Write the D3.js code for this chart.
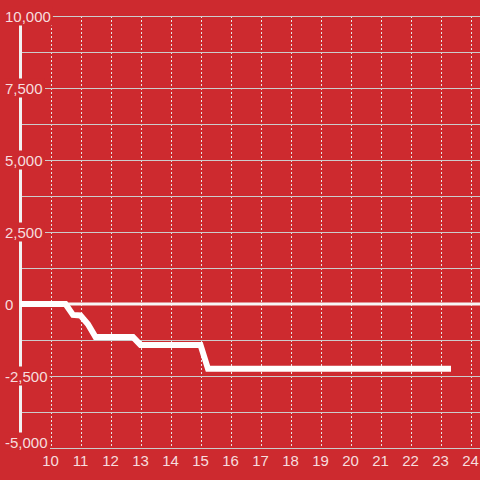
<!DOCTYPE html>
<html>
<head>
<meta charset="utf-8">
<script src="https://cdn.jsdelivr.net/npm/d3@7"></script>
<style>
  html, body { margin: 0; padding: 0; background: #cd2a2f; }
  svg { display: block; font-family: "Liberation Sans", Arial, sans-serif; }
</style>
</head>
<body>
<div id="chart"></div>
<script>
// step-down series (hour of day -> value)
const hours  = [9, 10.5, 10.75, 11, 11.25, 11.5, 12.75, 13, 15, 15.25, 23.35];
const values = [0, 0, -380, -400, -700, -1150, -1150, -1420, -1420, -2250, -2250];

const xTicks = [10, 11, 12, 13, 14, 15, 16, 17, 18, 19, 20, 21, 22, 23, 24];
const yMajor = [10000, 7500, 5000, 2500, 0, -2500, -5000];
const yMinor = [8750, 6250, 3750, 1250, -1250, -3750];

const W = 480, H = 480, bg = "#cd2a2f";
const x = d3.scaleLinear().domain([9, 25]).range([20.5, 500.5]);
const y = d3.scaleLinear().domain([-5000, 10000]).range([448, 16]);

const svg = d3.select("#chart").append("svg").attr("width", W).attr("height", H);
svg.append("rect").attr("width", W).attr("height", H).attr("fill", bg);

// vertical dashed grid
svg.append("g").selectAll("line").data(xTicks).join("line")
    .attr("x1", d => Math.round(x(d)) + 0.5).attr("x2", d => Math.round(x(d)) + 0.5)
    .attr("y1", y(10000)).attr("y2", y(-5000))
    .attr("stroke", "#e6e6e6").attr("stroke-width", 1).attr("stroke-dasharray", "2,2");

// horizontal grid
svg.append("g").selectAll("line").data(yMinor).join("line")
    .attr("x1", 22).attr("x2", W)
    .attr("y1", d => Math.round(y(d)) + 0.5).attr("y2", d => Math.round(y(d)) + 0.5)
    .attr("stroke", "#cccccc").attr("stroke-width", 1.2);
svg.append("g").selectAll("line").data(yMajor.filter(d => d !== 0)).join("line")
    .attr("x1", d => d === -5000 ? 50 : 45).attr("x2", W)
    .attr("y1", d => Math.round(y(d)) + 0.5).attr("y2", d => Math.round(y(d)) + 0.5)
    .attr("stroke", "#cccccc").attr("stroke-width", 1.2);

// y axis line and zero line
svg.append("line").attr("x1", x(9)).attr("x2", x(9))
    .attr("y1", y(10000)).attr("y2", y(-5000))
    .attr("stroke", "#f2f2f2").attr("stroke-width", 3);
svg.append("line").attr("x1", x(9)).attr("x2", W)
    .attr("y1", y(0)).attr("y2", y(0))
    .attr("stroke", "#f7f7f7").attr("stroke-width", 3);

// y labels with background patches (bottom one nudged up)
const fmt = d3.format(",");
const yl = svg.append("g").selectAll("g").data(yMajor).join("g");
yl.append("text")
    .attr("x", 5).attr("y", d => y(d) + 5.5 - (d === -5000 ? 6 : 0))
    .attr("font-size", 15).attr("fill", "rgba(255,255,255,0.85)")
    .text(d => fmt(d).replace("−", "-"));
yl.each(function () {
    const t = d3.select(this).select("text");
    const b = t.node().getBBox();
    d3.select(this).insert("rect", "text")
        .attr("x", b.x - 1).attr("y", b.y - 1)
        .attr("width", b.width + 3).attr("height", b.height + 2)
        .attr("fill", bg);
});

// data line
const line = d3.line().x((d, i) => x(hours[i])).y(d => y(d));
svg.append("path").datum(values)
    .attr("d", line)
    .attr("fill", "none").attr("stroke", "#ffffff").attr("stroke-width", 6);

// x labels
svg.append("g").selectAll("text").data(xTicks).join("text")
    .attr("x", d => x(d)).attr("y", 466)
    .attr("text-anchor", "middle")
    .attr("font-size", 15).attr("fill", "rgba(255,255,255,0.85)")
    .text(d => d);
</script>
</body>
</html>
